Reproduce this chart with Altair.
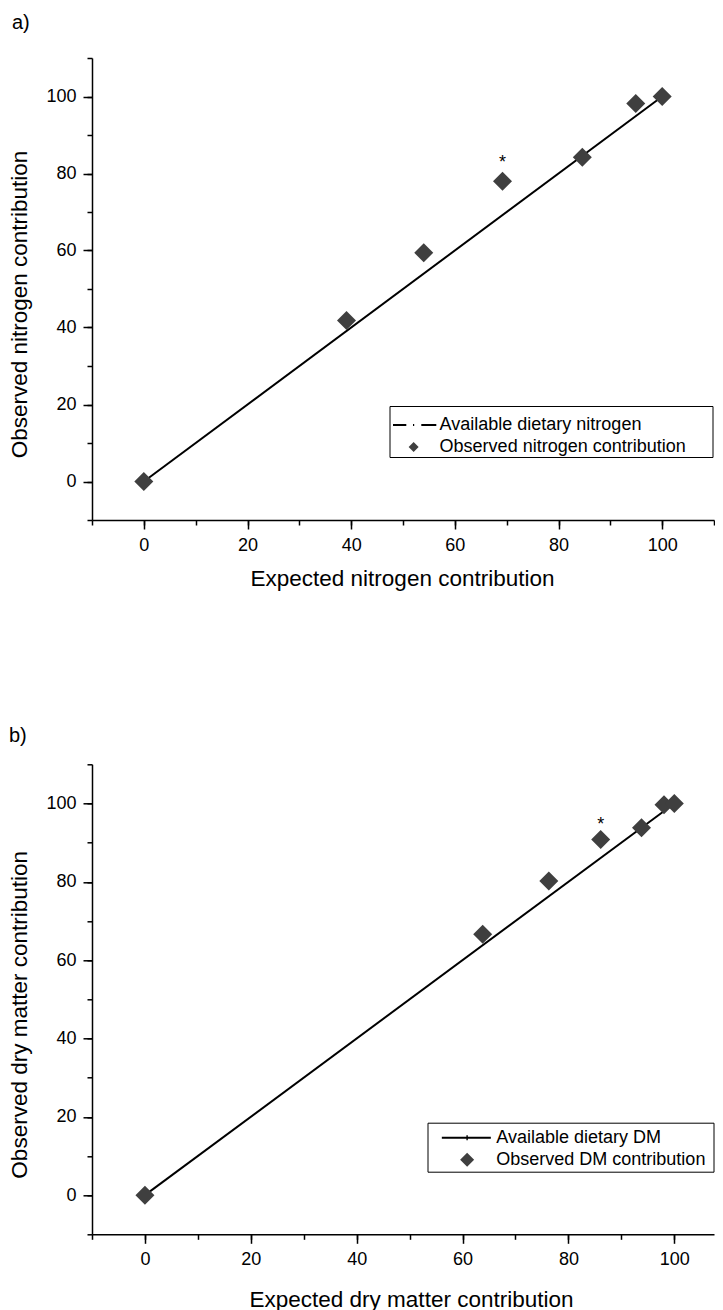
import altair as alt
import pandas as pd

FONT = "Liberation Sans"

# ---------------- data: panel a ----------------
a_expected = [0, 39.1, 54.0, 69.2, 84.6, 94.9, 100.0]
a_observed = [0, 41.8, 59.4, 78.0, 84.2, 98.2, 100.0]
a_line_x = [0, 100]
a_line_y = [0, 100]
a_star_x = [69.2]
a_star_y = [78.0]
a_labels = ["Available dietary nitrogen", "Observed nitrogen contribution"]

# ---------------- data: panel b ----------------
b_expected = [0, 63.8, 76.3, 86.1, 93.8, 98.05, 100.0]
b_observed = [0, 66.6, 80.2, 90.8, 93.8, 99.7, 100.0]
b_line_x = [0, 100]
b_line_y = [0, 100]
b_star_x = [86.1]
b_star_y = [90.8]
b_labels = ["Available dietary DM", "Observed DM contribution"]

major_ticks = [0, 20, 40, 60, 80, 100]
minor_ticks_full = [-10, 0, 10, 20, 30, 40, 50, 60, 70, 80, 90, 100, 110]
minor_ticks_cut = [-10, 0, 10, 20, 30, 40, 50, 60, 70, 80, 90, 100]


def panel(letter, xs, ys, lx, ly, sx, sy, labels, xtitle, ytitle,
          xdomain, xminor, width, height, line_path, sym_size,
          legx, legy, sym_off, lab_off, pad_text, leg_pad, leg_tsize, leg_tpad,
          star_dy, xtitle_x, xtitle_y, ytitle_y, ytitle_pad, title_offset, title_dx):
    pts = pd.DataFrame({"x": xs, "y": ys, "series": [labels[1]] * len(xs)})
    line = pd.DataFrame({"x": lx, "y": ly})
    star = pd.DataFrame({"x": sx, "y": sy, "t": ["*"] * len(sx)})

    xscale = alt.Scale(domain=xdomain, nice=False, zero=False)
    yscale = alt.Scale(domain=[-10, 110], nice=False, zero=False)

    x_major = alt.Axis(values=major_ticks, tickSize=9, orient="bottom",
                       title=xtitle, titleX=xtitle_x, titleY=xtitle_y,
                       titleBaseline="alphabetic", grid=False)
    y_major = alt.Axis(values=major_ticks, tickSize=9, orient="left",
                       title=ytitle, titleY=ytitle_y, titlePadding=ytitle_pad,
                       grid=False)
    x_minor = alt.Axis(values=xminor, tickSize=5, orient="bottom", labels=False,
                       domain=False, title=None, grid=False)
    y_minor = alt.Axis(values=minor_ticks_full, tickSize=5, orient="left",
                       labels=False, domain=False, title=None, grid=False)

    legend = alt.Legend(
        title="\u00a0", titleFontSize=leg_tsize, titlePadding=leg_tpad,
        orient="none", legendX=legx, legendY=legy,
        symbolSize=sym_size, symbolStrokeWidth=0, symbolOffset=sym_off,
        labelOffset=lab_off, labelFont=FONT, labelFontSize=18, labelColor="black",
        labelLimit=1000, padding=leg_pad, rowPadding=4, strokeColor="black",
        fillColor="white",
        labelExpr="datum.label + '" + pad_text + "'",
    )

    base_line = alt.Chart(line).mark_line(color="black", strokeWidth=2).encode(
        x=alt.X("x:Q", scale=xscale, axis=x_major),
        y=alt.Y("y:Q", scale=yscale, axis=y_major),
    )
    points = alt.Chart(pts).mark_point(filled=True, size=361, opacity=1).encode(
        x=alt.X("x:Q", scale=xscale, axis=x_minor),
        y=alt.Y("y:Q", scale=yscale, axis=y_minor),
        shape=alt.Shape("series:N", scale=alt.Scale(domain=labels, range=[line_path, "diamond"]),
                        legend=legend),
        color=alt.Color("series:N", scale=alt.Scale(domain=labels, range=["black", "#3f3f3f"]),
                        legend=legend),
    )
    stars = alt.Chart(star).mark_text(fontSize=18, font=FONT, color="black",
                                      baseline="middle", dy=star_dy).encode(
        x=alt.X("x:Q", scale=xscale, axis=None),
        y=alt.Y("y:Q", scale=yscale, axis=None),
        text="t:N",
    )
    return alt.layer(base_line, points, stars).resolve_axis(
        x="independent", y="independent"
    ).properties(
        width=width, height=height,
        title=alt.TitleParams(text=letter, anchor="start", frame="bounds",
                              fontSize=20, fontWeight="normal", font=FONT,
                              color="black", baseline="alphabetic",
                              offset=title_offset, dx=title_dx),
    )


path_a = ("M-4.12,-0.2H-1.46V0.2H-4.12Z M-0.12,-0.2H0.12V0.2H-0.12Z "
          "M1.54,-0.2H4.54V0.2H1.54Z")
path_b = "M-3.61,-0.143H3.39V0.143H-3.61Z M-0.1,-0.35H0.1V0.35H-0.1Z"

pad_a = "\u00a0" * 5 + "\u200b"
pad_b = "\u00a0" + "\u200b"

pa = panel("a)", a_expected, a_observed, a_line_x, a_line_y, a_star_x, a_star_y,
           a_labels, "Expected nitrogen contribution", "Observed nitrogen contribution",
           [-10, 110], minor_ticks_full, 622, 462, path_a, 100,
           297.5, 348, 14.1, 17, pad_a, 1, 8, 1,
           -18.4, 310, 65, 246, 14, 7.9, 3)

pb = panel("b)", b_expected, b_observed, b_line_x, b_line_y, b_star_x, b_star_y,
           b_labels, "Expected dry matter contribution", "Observed dry matter contribution",
           [-10, 107.5], minor_ticks_cut, 622, 470, path_b, 196,
           335.5, 358.4, 27.6, 20.2, pad_b, 3, 3, 0,
           -15, 319, 72, 250, 14, 1.1, 0)

chart = alt.vconcat(pa, pb, spacing=136.3).resolve_scale(
    color="independent", shape="independent"
).resolve_legend(color="independent", shape="independent").properties(
    padding={"left": 0, "top": 5, "right": 0, "bottom": 0}
).configure_view(stroke=None).configure_axis(
    domainColor="black", domainWidth=1.5, tickColor="black", tickWidth=1.5,
    labelFont=FONT, labelFontSize=18, labelColor="black", labelPadding=7,
    titleFont=FONT, titleFontSize=22.5, titleFontWeight="normal", titleColor="black",
)

chart.save("out.html", embed_options={"renderer": "svg", "actions": False})
